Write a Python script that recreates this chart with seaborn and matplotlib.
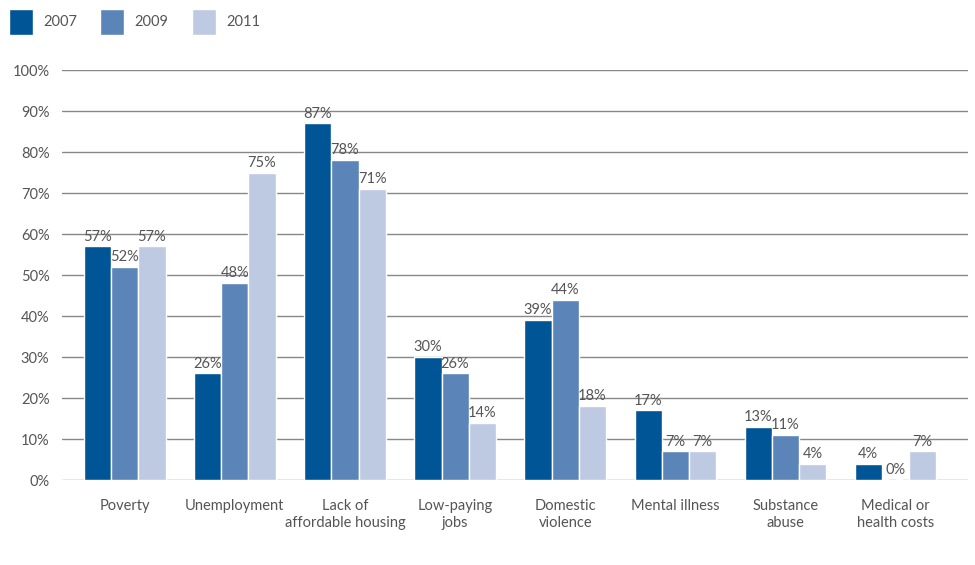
import pandas as pd
import matplotlib
matplotlib.use("Agg")
import matplotlib.pyplot as plt
import seaborn as sns

categories = ["Poverty", "Unemployment", "Lack of\naffordable housing", "Low-paying\njobs",
              "Domestic\nviolence", "Mental illness", "Substance\nabuse", "Medical or\nhealth costs"]
years = ["2007", "2009", "2011"]
values_2007 = [57, 26, 87, 30, 39, 17, 13, 4]
values_2009 = [52, 48, 78, 26, 44, 7, 11, 0]
values_2011 = [57, 75, 71, 14, 18, 7, 4, 7]
yticks = list(range(0, 101, 10))

colors = ["#005596", "#5b84b8", "#bec9e2"]
text_color = "#555555"

df = pd.DataFrame({
    "category": categories * 3,
    "year": [y for y in years for _ in categories],
    "value": values_2007 + values_2009 + values_2011,
})

sns.set_style("white")
plt.rcParams["font.family"] = ["Lato", "DejaVu Sans"]

fig = plt.figure(figsize=(9.75, 5.65), dpi=100)
ax = fig.add_axes([0.0636, 0.1504, 0.9294, 0.7256])

ax.set_axisbelow(True)
for t in yticks:
    ax.axhline(t, color="#888888", lw=1, zorder=0)

sns.barplot(data=df, x="category", y="value", hue="year", palette=colors,
            width=0.74, saturation=1, ax=ax, zorder=2)

for cont in ax.containers:
    labels = [f"{v:.0f}%" for v in cont.datavalues]
    ax.bar_label(cont, labels=labels, padding=2, fontsize=10.5, color=text_color)

# zero-height bar marked with white dashes on the baseline
for bar, v in zip(ax.containers[1], values_2009):
    if v == 0:
        x0 = bar.get_x()
        ax.plot([x0, x0 + bar.get_width()], [0, 0], color="white", lw=2,
                ls=(0, (2.5, 2.5)), zorder=3, clip_on=False)

ax.set_ylim(0, 100)
ax.set_xlim(-0.57, 7.66)
ax.set_yticks(yticks)
ax.set_yticklabels([f"{t}%" for t in yticks])
ax.tick_params(axis="y", length=0, pad=9, labelsize=10.5, labelcolor=text_color)
ax.tick_params(axis="x", length=0, pad=14, labelsize=10.5, labelcolor=text_color)
ax.set_xlabel("")
ax.set_ylabel("")
sns.despine(ax=ax, left=True, bottom=True, top=True, right=True)

ax.legend(loc="upper left", bbox_to_anchor=(0.0, 1.0), bbox_transform=fig.transFigure,
          ncol=3, frameon=False, fontsize=10.5, labelcolor=text_color,
          handlelength=1.65, handleheight=2.4, handletextpad=0.7, columnspacing=1.6,
          borderaxespad=0.2)

fig.savefig("out.png", dpi=100)
